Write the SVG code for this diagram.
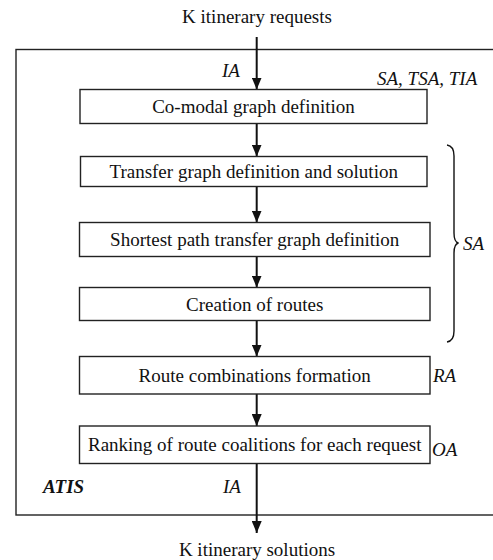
<svg xmlns="http://www.w3.org/2000/svg" width="493" height="560" viewBox="0 0 493 560">
<style>
  .box { fill: #fff; stroke: #222; stroke-width: 1.4; }
  .frame { fill: none; stroke: #222; stroke-width: 1.4; }
  .t { font-family: "Liberation Serif", "Times New Roman", serif; font-size: 19px; fill: #111; }
  .c { text-anchor: middle; }
  .i { font-style: italic; }
  .b { font-weight: bold; }
  .conn { stroke: #111; stroke-width: 2; fill: none; marker-end: url(#ah); }
  .brace { fill: none; stroke: #111; stroke-width: 1.4; }
</style>
<defs>
  <marker id="ah" viewBox="0 0 12 10" refX="12" refY="5" markerWidth="12" markerHeight="10" markerUnits="userSpaceOnUse" orient="auto">
    <path d="M0,0 L12,5 L0,10 z" fill="#111"/>
  </marker>
</defs>
<rect fill="#fff" width="493" height="560"/>
<g id="atis-frame">
  <rect class="frame" x="16" y="49.5" width="490" height="465.5"/>
  <text class="t i b" x="43" y="493">ATIS</text>
</g>
<g id="connectors">
  <line class="conn" x1="256.7" y1="37" x2="256.7" y2="89.5"/>
  <line class="conn" x1="256.7" y1="123.5" x2="256.7" y2="156.5"/>
  <line class="conn" x1="256.7" y1="186.5" x2="256.7" y2="222.5"/>
  <line class="conn" x1="256.7" y1="256.5" x2="256.7" y2="287.5"/>
  <line class="conn" x1="256.7" y1="320.5" x2="256.7" y2="356.5"/>
  <line class="conn" x1="256.7" y1="394" x2="256.7" y2="426"/>
  <line class="conn" x1="256.7" y1="463.5" x2="256.7" y2="533"/>
</g>
<g id="input">
  <text class="t c" x="257" y="23">K itinerary requests</text>
  <text class="t i" x="222" y="77">IA</text>
</g>
<g id="n1">
  <rect class="box" x="80" y="89.5" width="347" height="34"/>
  <text class="t c" x="253.5" y="113">Co-modal graph definition</text>
  <text class="t i" x="377" y="85">SA, TSA, TIA</text>
</g>
<g id="n2">
  <rect class="box" x="80.5" y="156.5" width="346.5" height="30"/>
  <text class="t c" x="253.7" y="178">Transfer graph definition and solution</text>
</g>
<g id="n3">
  <rect class="box" x="79.5" y="222.5" width="350.5" height="34"/>
  <text class="t c" x="254.7" y="246">Shortest path transfer graph definition</text>
</g>
<g id="n4">
  <rect class="box" x="79.5" y="287.5" width="350.5" height="33"/>
  <text class="t c" x="254.7" y="311">Creation of routes</text>
</g>
<g id="sa-brace">
  <path class="brace" d="M447,145 Q454,146 454,156 L454,233 Q454,242 458.5,243 Q454,244 454,253 L454,331 Q454,341 447,342"/>
  <text class="t i" x="463" y="250">SA</text>
</g>
<g id="n5">
  <rect class="box" x="79.5" y="356.5" width="350.5" height="37.5"/>
  <text class="t c" x="254.7" y="382">Route combinations formation</text>
  <text class="t i" x="433" y="382">RA</text>
</g>
<g id="n6">
  <rect class="box" x="79.5" y="426" width="350.5" height="37.5"/>
  <text class="t c" x="254.7" y="451">Ranking of route coalitions for each request</text>
  <text class="t i" x="432" y="456">OA</text>
</g>
<g id="output">
  <text class="t i" x="223" y="493">IA</text>
  <text class="t c" x="257" y="556">K itinerary solutions</text>
</g>
</svg>
